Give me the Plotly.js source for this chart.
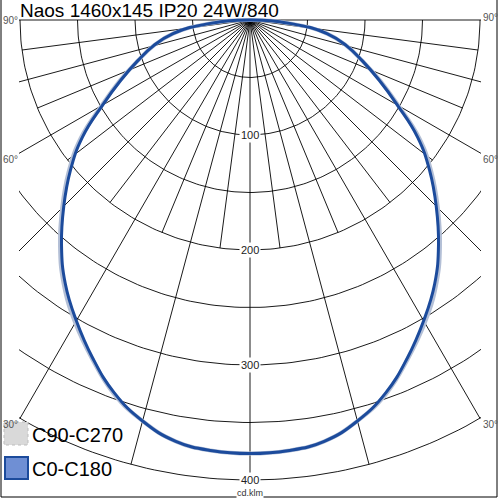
<!DOCTYPE html>
<html><head><meta charset="utf-8">
<script src="https://cdn.plot.ly/plotly-3.0.1.min.js"></script>
<style>html,body{margin:0;padding:0;background:#fff}#chart{width:500px;height:500px}</style>
</head><body><div id="chart"></div>
<script>
// ---- data ----
const titleText = "Naos 1460x145 IP20 24W/840";
const unitLabel = "cd.klm";
const gammaAngles = [0,5,10,15,20,25,30,35,40,45,50,55,60,65,70,75,80,85,90];
const c0c180  = [377,376,372,361,345,324,302,280,255,229,204,178,148,124,104,87,68,36,0];
const c90c270 = [377,376,372,361,346,325,304,282,257,231,206,180,149,125,104,87,68,36,0];
const seriesNames = ["C90-C270","C0-C180"];
const gridRadii = [50,100,150,200,250,300,350,400];
const radialLabels = ["100","200","300","400"];
const radialLabelValues = [100,200,300,400];
const majorSpokes = [-90,-75,-60,-45,-30,-15,0,15,30,45,60,75,90];
const minorSpokes = [-82.5,-67.5,-52.5,-37.5,-22.5,-7.5,7.5,22.5,37.5,52.5,67.5,82.5];
const minorSpokeLength = 200;
const angleLabels = ["90°","60°","30°"];

// ---- layout geometry ----
const W = 500, H = 500, SCALE = 1.15;
const M = {l:19, r:19, t:16, b:16};
const plotW = W - M.l - M.r, plotH = H - M.t - M.b;
const xHalf = plotW / SCALE / 2;
const yTop = (20 - M.t) / SCALE;
const yBot = -((H - M.b) - 20) / SCALE;
const px2x = p => (p - M.l) / plotW;
const py2y = p => 1 - (p - M.t) / plotH;
const rad = d => d * Math.PI / 180;
const FONT = "Liberation Sans, Arial, sans-serif";

function curveXY(angles, vals) {
  const xs = [], ys = [];
  for (let i = angles.length - 1; i >= 0; i--) { const t = rad(angles[i]); xs.push(-vals[i]*Math.sin(t)); ys.push(-vals[i]*Math.cos(t)); }
  for (let i = 1; i < angles.length; i++) { const t = rad(angles[i]); xs.push(vals[i]*Math.sin(t)); ys.push(-vals[i]*Math.cos(t)); }
  return {x: xs, y: ys};
}

// grid circles (lower half)
const gx = [], gy = [];
gridRadii.forEach(r => {
  for (let a = -90; a <= 90; a += 1) { gx.push(r*Math.sin(rad(a))); gy.push(-r*Math.cos(rad(a))); }
  gx.push(null); gy.push(null);
});
// spokes
const sx = [], sy = [];
const rMax = gridRadii[gridRadii.length - 1];
majorSpokes.forEach(a => { sx.push(0, rMax*Math.sin(rad(a)), null); sy.push(0, -rMax*Math.cos(rad(a)), null); });
minorSpokes.forEach(a => { sx.push(0, minorSpokeLength*Math.sin(rad(a)), null); sy.push(0, -minorSpokeLength*Math.cos(rad(a)), null); });

const cA = curveXY(gammaAngles, c90c270);
const cB = curveXY(gammaAngles, c0c180);

const traces = [
  {x: gx, y: gy, mode: 'lines', line: {color: '#000', width: 0.9}, hoverinfo: 'skip', showlegend: false},
  {x: sx, y: sy, mode: 'lines', line: {color: '#000', width: 0.9}, hoverinfo: 'skip', showlegend: false},
  {x: cA.x, y: cA.y, name: seriesNames[0], mode: 'lines', line: {color: '#b3bfd6', width: 4, shape: 'spline', smoothing: 1.3}, showlegend: false},
  {x: cB.x, y: cB.y, name: seriesNames[1], mode: 'lines', line: {color: '#1c4b9c', width: 3, shape: 'spline', smoothing: 1.3}, showlegend: false}
];

const ann = [];
const A = (o) => ann.push(Object.assign({xref: 'paper', yref: 'paper', showarrow: false, xanchor: 'left', yanchor: 'middle'}, o));
radialLabels.forEach((t, i) => ann.push({x: 0, y: -radialLabelValues[i], xref: 'x', yref: 'y', xanchor: 'center', yanchor: 'middle', text: t, showarrow: false,
  font: {family: FONT, size: 11, color: '#222'}, bgcolor: '#fff', borderpad: 1}));
A({x: px2x(250), y: py2y(493), xanchor: 'center', text: unitLabel, font: {family: FONT, size: 9, color: '#333'}, bgcolor: '#fff', borderpad: 0});
A({x: px2x(18), y: py2y(10.5), text: titleText, font: {family: FONT, size: 19, color: '#000'}});
const labelY = [18, 159.5, 424];
angleLabels.forEach((t, i) => {
  A({x: px2x(481), y: py2y(labelY[i]), text: t, font: {family: FONT, size: 10, color: '#555'}});
  A({x: px2x(1), y: py2y(labelY[i] + (i === 0 ? 3 : 0)), text: t, font: {family: FONT, size: 10, color: '#555'}});
});
// legend texts
A({x: px2x(30), y: py2y(435), text: seriesNames[0], font: {family: FONT, size: 20, color: '#000'}});
A({x: px2x(30), y: py2y(469), text: seriesNames[1], font: {family: FONT, size: 20, color: '#000'}});

const shapes = [
  {type: 'rect', xref: 'paper', yref: 'paper', x0: px2x(1), x1: px2x(497), y0: py2y(-2), y1: py2y(497), line: {color: '#000', width: 1}},
  {type: 'rect', xref: 'paper', yref: 'paper', x0: px2x(4), x1: px2x(28), y0: py2y(422), y1: py2y(445), fillcolor: '#d9d9d9', line: {color: '#bdbdbd', width: 1, dash: 'dot'}},
  {type: 'rect', xref: 'paper', yref: 'paper', x0: px2x(5), x1: px2x(28), y0: py2y(457), y1: py2y(479), fillcolor: '#6f8fd4', line: {color: '#1c4b9c', width: 2}}
];

const layout = {
  width: W, height: H, autosize: false,
  margin: M, paper_bgcolor: '#fff', plot_bgcolor: '#fff',
  xaxis: {range: [-xHalf, xHalf], visible: false, fixedrange: true},
  yaxis: {range: [yBot, yTop], visible: false, fixedrange: true},
  showlegend: false, annotations: ann, shapes: shapes
};
Plotly.newPlot('chart', traces, layout, {staticPlot: true});
</script></body></html>
